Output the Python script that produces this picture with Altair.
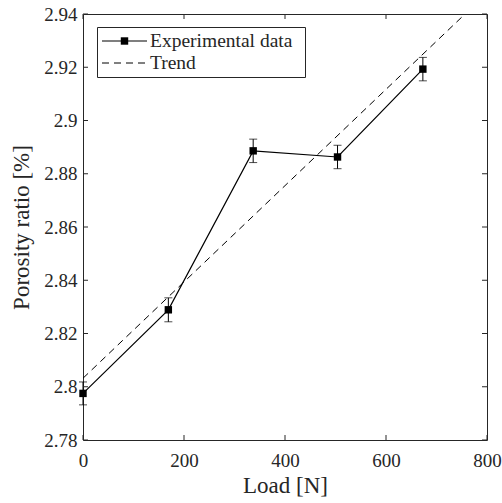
import altair as alt
import pandas as pd

# Data
load = [0, 169, 337, 504, 673]
porosity = [2.7975, 2.8289, 2.8886, 2.8863, 2.9193]
err = [0.0043, 0.0045, 0.0044, 0.0044, 0.0044]

trend_load = [0, 751]
trend_porosity = [2.8032, 2.939]

x_ticks = [0, 200, 400, 600, 800]
y_ticks = [2.78, 2.80, 2.82, 2.84, 2.86, 2.88, 2.90, 2.92, 2.94]

FONT = "Liberation Serif"
INK = "#262626"
W, H = 404, 426

df = pd.DataFrame({"load": load, "p": porosity, "e": err})
df["lo"] = df["p"] - df["e"]
df["hi"] = df["p"] + df["e"]
dft = pd.DataFrame({"load": trend_load, "p": trend_porosity})

xs = alt.Scale(domain=[0, 800], nice=False)
ys = alt.Scale(domain=[2.78, 2.94], zero=False, nice=False)

xax = alt.Axis(values=x_ticks, grid=False, ticks=False, domain=False, labelFont=FONT,
               labelFontSize=19, labelColor=INK, labelPadding=11, labelFlush=False,
               title="Load [N]", titleFont=FONT, titleFontSize=23,
               titleFontWeight="normal", titleColor=INK, titlePadding=4)
yax = alt.Axis(values=y_ticks, format=".2~f", grid=False, ticks=False, domain=False,
               labelFont=FONT, labelFontSize=19, labelColor=INK, labelPadding=6,
               labelFlush=False, title="Porosity ratio [%]", titleFont=FONT,
               titleFontSize=23, titleFontWeight="normal", titleColor=INK, titlePadding=10)

base = alt.Chart(df)

trend = alt.Chart(dft).mark_line(color="black", strokeWidth=1, strokeDash=[7, 5], clip=True).encode(
    x=alt.X("load:Q", scale=xs, axis=xax),
    y=alt.Y("p:Q", scale=ys, axis=yax),
)
line = base.mark_line(color="black", strokeWidth=1.2).encode(x=alt.X("load:Q", scale=xs), y=alt.Y("p:Q", scale=ys))
bars = base.mark_rule(color="black", strokeWidth=1).encode(
    x=alt.X("load:Q", scale=xs), y=alt.Y("lo:Q", scale=ys), y2="hi:Q")
cap_lo = base.mark_tick(color="black", thickness=1, size=8, orient="horizontal").encode(
    x=alt.X("load:Q", scale=xs), y=alt.Y("lo:Q", scale=ys))
cap_hi = base.mark_tick(color="black", thickness=1, size=8, orient="horizontal").encode(
    x=alt.X("load:Q", scale=xs), y=alt.Y("hi:Q", scale=ys))
pts = base.mark_square(color="black", filled=True, size=55, opacity=1).encode(
    x=alt.X("load:Q", scale=xs), y=alt.Y("p:Q", scale=ys))

# inward ticks on all four sides
dxt = pd.DataFrame({"t": x_ticks})
dyt = pd.DataFrame({"t": y_ticks})
tk = dict(color=INK, strokeWidth=1)
xt_b = alt.Chart(dxt).mark_rule(**tk).encode(x=alt.X("t:Q", scale=xs), y=alt.value(H), y2=alt.value(H - 5))
xt_t = alt.Chart(dxt).mark_rule(**tk).encode(x=alt.X("t:Q", scale=xs), y=alt.value(0), y2=alt.value(5))
yt_l = alt.Chart(dyt).mark_rule(**tk).encode(y=alt.Y("t:Q", scale=ys), x=alt.value(0), x2=alt.value(5))
yt_r = alt.Chart(dyt).mark_rule(**tk).encode(y=alt.Y("t:Q", scale=ys), x=alt.value(W), x2=alt.value(W - 5))

# legend (drawn in pixel space of the plot area)
leg_df = pd.DataFrame({"label": ["Experimental data", "Trend"], "row": [0, 1]})
one = pd.DataFrame({"a": [0]})
box = alt.Chart(one).mark_rect(fill="white", stroke=INK, strokeWidth=1).encode(
    x=alt.value(14.5), x2=alt.value(222.5), y=alt.value(13.5), y2=alt.value(63.5))
l1 = alt.Chart(one).mark_rule(color="black", strokeWidth=1.2).encode(
    x=alt.value(19), x2=alt.value(64), y=alt.value(27))
sq = alt.Chart(one).mark_square(color="black", filled=True, size=55, opacity=1).encode(
    x=alt.value(41.5), y=alt.value(27))
l2 = alt.Chart(one).mark_rule(color="black", strokeWidth=1, strokeDash=[7, 5]).encode(
    x=alt.value(19), x2=alt.value(64), y=alt.value(49))
t1 = alt.Chart(leg_df).transform_filter("datum.row == 0").mark_text(
    font=FONT, fontSize=19.5, color=INK, align="left", baseline="middle").encode(
    x=alt.value(67), y=alt.value(27), text="label:N")
t2 = alt.Chart(leg_df).transform_filter("datum.row == 1").mark_text(
    font=FONT, fontSize=19.5, color=INK, align="left", baseline="middle").encode(
    x=alt.value(67), y=alt.value(49), text="label:N")

chart = alt.layer(trend, line, bars, cap_lo, cap_hi, pts, xt_b, xt_t, yt_l, yt_r,
                  box, l1, sq, l2, t1, t2).properties(
    width=W, height=H,
    autosize=alt.AutoSizeParams(type="none"),
    padding={"left": 83, "top": 14, "right": 15, "bottom": 63},
    background="white",
).configure_view(stroke=INK, strokeWidth=1)

chart.save("out.html", embed_options={"renderer": "svg", "actions": False})
